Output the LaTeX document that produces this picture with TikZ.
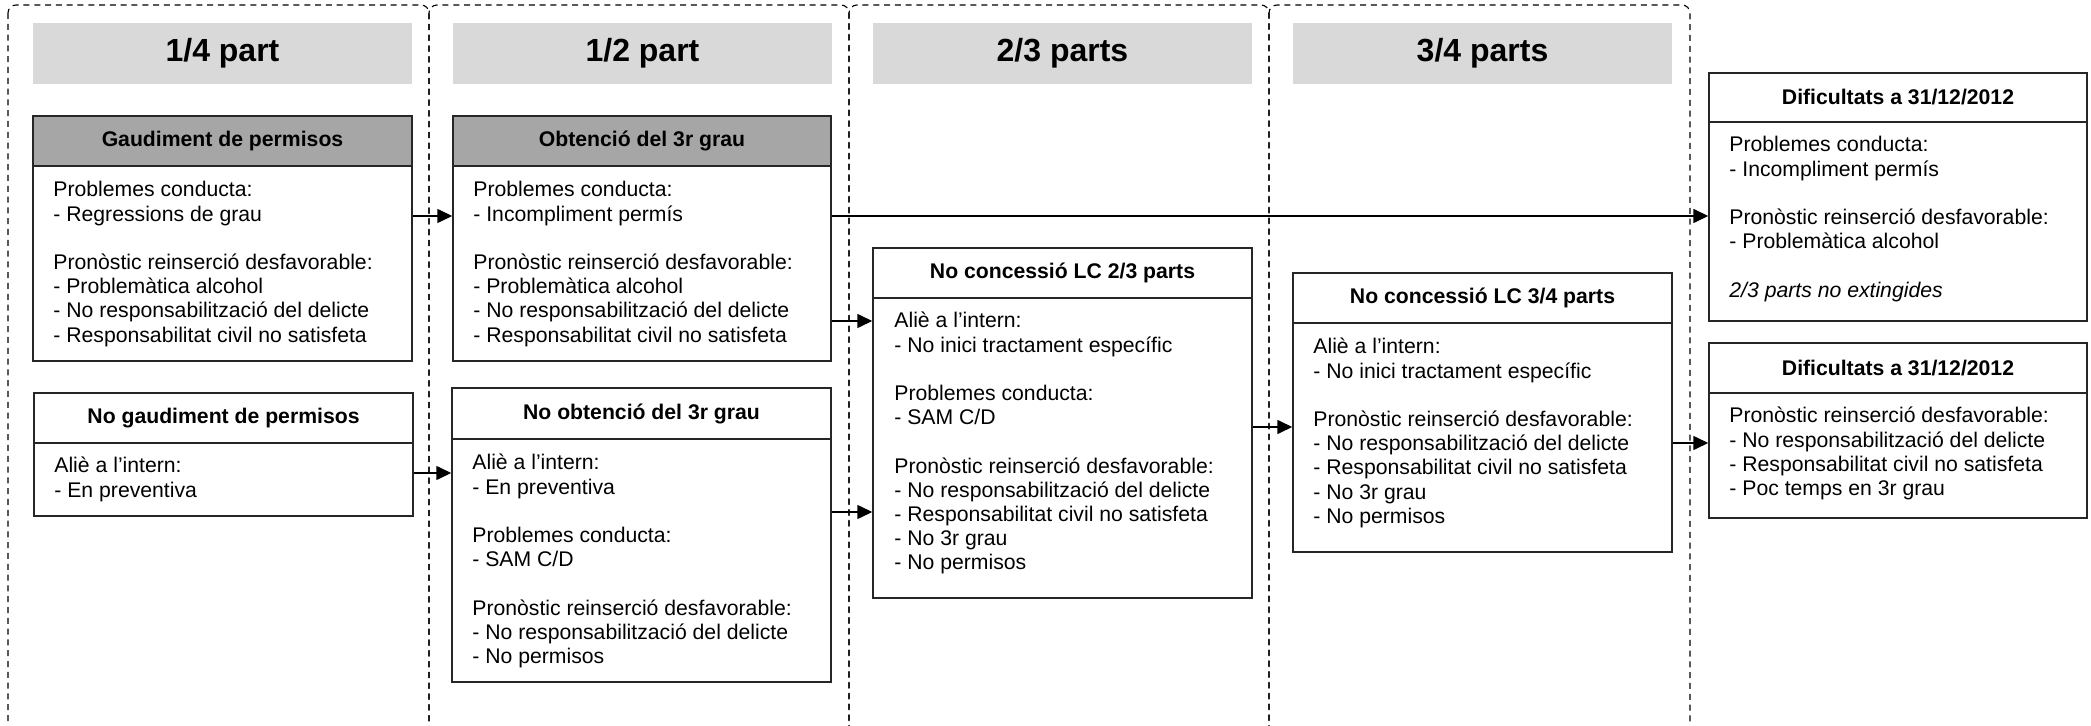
\documentclass[tikz,border=0pt]{standalone}
\usepackage{fontspec}
\setmainfont{Liberation Sans}
\usetikzlibrary{fit,arrows.meta}
\definecolor{hgray}{RGB}{217,217,217}
\definecolor{tgray}{RGB}{166,166,166}
\begin{document}
\begin{tikzpicture}[x=0.5pt,y=-0.5pt,
  colbox/.style={draw=black, line width=0.55pt, dash pattern=on 3pt off 2.4pt, rounded corners=4pt},
  hdr/.style={fill=hgray, inner sep=0pt},
  hdrtxt/.style={inner sep=0pt, font=\bfseries\fontsize{16}{19}\selectfont},
  ttl/.style={draw=black!85, line width=0.75pt, inner sep=0pt},
  ttltxt/.style={inner sep=0pt, font=\bfseries\fontsize{10.6}{12.1}\selectfont},
  bodybox/.style={draw=black!85, line width=0.75pt, inner sep=0pt},
  txt/.style={anchor=base west, inner sep=0pt, font=\fontsize{10.6}{12.1}\selectfont},
  arr/.style={line width=0.8pt, -{Triangle[length=7.5pt,width=7pt]}}
]
\useasboundingbox (0,0) rectangle (2091,726);
\clip (0,0) rectangle (2091,726);
\fill[white] (0,0) rectangle (2091,726);

% columns
\draw[colbox] (8,5) rectangle (429,738);
\draw[colbox] (429,5) rectangle (849,738);
\draw[colbox] (849,5) rectangle (1269,738);
\draw[colbox] (1269,5) rectangle (1690,738);

% headers
\node[hdr, fit={(33,23)(412,84)}] (h1) {};
\node[hdr, fit={(453,23)(832,84)}] (h2) {};
\node[hdr, fit={(873,23)(1252,84)}] (h3) {};
\node[hdr, fit={(1293,23)(1672,84)}] (h4) {};
\node[hdrtxt] (h1t) at (h1.center) {1/4 part};
\node[hdrtxt] (h2t) at (h2.center) {1/2 part};
\node[hdrtxt] (h3t) at (h3.center) {2/3 parts};
\node[hdrtxt] (h4t) at (h4.center) {3/4 parts};

% Column 1
\node[ttl, fill=tgray, fit={(33,116)(412,166)}] (gpT) {};
\node[ttltxt] (gpTt) at (gpT.center) {Gaudiment de permisos};
\node[bodybox, fit={(33,166)(412,361)}] (gpB) {};
\node[txt] (gpX) at (53,197) {\begin{tabular}[t]{@{}l@{}}
Problemes conducta:\\
- Regressions de grau\\
\\
Pronòstic reinserció desfavorable:\\
- Problemàtica alcohol\\
- No responsabilització del delicte\\
- Responsabilitat civil no satisfeta
\end{tabular}};

\node[ttl, fit={(34,393)(413,443)}] (ngpT) {};
\node[ttltxt] (ngpTt) at (ngpT.center) {No gaudiment de permisos};
\node[bodybox, fit={(34,443)(413,516)}] (ngpB) {};
\node[txt] (ngpX) at (54,473) {\begin{tabular}[t]{@{}l@{}}
Aliè a l’intern:\\
- En preventiva
\end{tabular}};

% Column 2
\node[ttl, fill=tgray, fit={(453,116)(831,166)}] (obT) {};
\node[ttltxt] (obTt) at (obT.center) {Obtenció del 3r grau};
\node[bodybox, fit={(453,166)(831,361)}] (obB) {};
\node[txt] (obX) at (473,197) {\begin{tabular}[t]{@{}l@{}}
Problemes conducta:\\
- Incompliment permís\\
\\
Pronòstic reinserció desfavorable:\\
- Problemàtica alcohol\\
- No responsabilització del delicte\\
- Responsabilitat civil no satisfeta
\end{tabular}};

\node[ttl, fit={(452,388)(831,439)}] (nobT) {};
\node[ttltxt] (nobTt) at (nobT.center) {No obtenció del 3r grau};
\node[bodybox, fit={(452,439)(831,682)}] (nobB) {};
\node[txt] (nobX) at (472,470) {\begin{tabular}[t]{@{}l@{}}
Aliè a l’intern:\\
- En preventiva\\
\\
Problemes conducta:\\
- SAM C/D\\
\\
Pronòstic reinserció desfavorable:\\
- No responsabilització del delicte\\
- No permisos
\end{tabular}};

% Column 3
\node[ttl, fit={(873,248)(1252,298)}] (c3T) {};
\node[ttltxt] (c3Tt) at (c3T.center) {No concessió LC 2/3 parts};
\node[bodybox, fit={(873,298)(1252,598)}] (c3B) {};
\node[txt] (c3X) at (894,328) {\begin{tabular}[t]{@{}l@{}}
Aliè a l’intern:\\
- No inici tractament específic\\
\\
Problemes conducta:\\
- SAM C/D\\
\\
Pronòstic reinserció desfavorable:\\
- No responsabilització del delicte\\
- Responsabilitat civil no satisfeta\\
- No 3r grau\\
- No permisos
\end{tabular}};

% Column 4
\node[ttl, fit={(1293,273)(1672,323)}] (c4T) {};
\node[ttltxt] (c4Tt) at (c4T.center) {No concessió LC 3/4 parts};
\node[bodybox, fit={(1293,323)(1672,552)}] (c4B) {};
\node[txt] (c4X) at (1313,354) {\begin{tabular}[t]{@{}l@{}}
Aliè a l’intern:\\
- No inici tractament específic\\
\\
Pronòstic reinserció desfavorable:\\
- No responsabilització del delicte\\
- Responsabilitat civil no satisfeta\\
- No 3r grau\\
- No permisos
\end{tabular}};

% Right boxes
\node[ttl, fit={(1709,73)(2087,122)}] (d1T) {};
\node[ttltxt] (d1Tt) at (d1T.center) {Dificultats a 31/12/2012};
\node[bodybox, fit={(1709,122)(2087,321)}] (d1B) {};
\node[txt] (d1X) at (1729,152) {\begin{tabular}[t]{@{}l@{}}
Problemes conducta:\\
- Incompliment permís\\
\\
Pronòstic reinserció desfavorable:\\
- Problemàtica alcohol\\
\\
\itshape 2/3 parts no extingides
\end{tabular}};

\node[ttl, fit={(1709,343)(2087,393)}] (d2T) {};
\node[ttltxt] (d2Tt) at (d2T.center) {Dificultats a 31/12/2012};
\node[bodybox, fit={(1709,393)(2087,518)}] (d2B) {};
\node[txt] (d2X) at (1729,423) {\begin{tabular}[t]{@{}l@{}}
Pronòstic reinserció desfavorable:\\
- No responsabilització del delicte\\
- Responsabilitat civil no satisfeta\\
- Poc temps en 3r grau
\end{tabular}};

% arrow levels
\coordinate (yA) at (0,216);
\coordinate (yB) at (0,473);
\coordinate (yC) at (0,321);
\coordinate (yD) at (0,512);
\coordinate (yE) at (0,427);
\coordinate (yF) at (0,443);

\draw[arr] (gpB.east |- yA) -- (obB.west |- yA);
\draw[arr] (ngpB.east |- yB) -- (nobB.west |- yB);
\draw[arr] (obB.east |- yC) -- (c3B.west |- yC);
\draw[arr] (nobB.east |- yD) -- (c3B.west |- yD);
\draw[arr] (obB.east |- yA) -- (d1B.west |- yA);
\draw[arr] (c3B.east |- yE) -- (c4B.west |- yE);
\draw[arr] (c4B.east |- yF) -- (d2B.west |- yF);
\end{tikzpicture}
\end{document}
